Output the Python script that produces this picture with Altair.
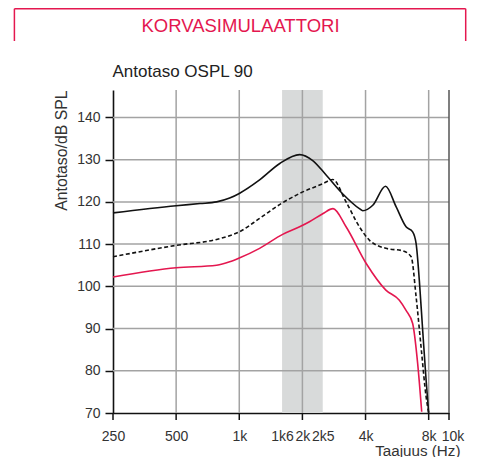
import altair as alt
import pandas as pd

# ---- data ----
black_f = [250, 500, 650, 780, 900, 1000, 1250, 1560, 1940, 2240, 2600, 3100, 3740, 3880, 4330, 4980, 5600, 6240, 6710, 6970, 7220, 7490, 7780, 8000]
black_db = [117.4, 119.1, 119.6, 120.0, 120.9, 122.0, 125.2, 129.1, 131.2, 129.8, 126.3, 122.0, 118.4, 117.9, 119.2, 123.7, 118.8, 114.1, 112.9, 110.1, 101.4, 89.6, 77.7, 70.0]

dashed_f = [250, 500, 780, 900, 1000, 1250, 1610, 1940, 2500, 2790, 3230, 3740, 4180, 5000, 6020, 6600, 6970, 7360, 7780, 8000]
dashed_db = [107.0, 109.7, 111.1, 112.0, 112.9, 116.1, 119.8, 122.0, 124.3, 125.3, 120.0, 114.1, 110.9, 109.0, 108.4, 107.0, 97.5, 85.6, 73.8, 70.0]

red_f = [250, 500, 780, 900, 1000, 1250, 1610, 1940, 2160, 2500, 2800, 3230, 4030, 5000, 5800, 6240, 6710, 7090, 7410]
red_db = [102.2, 104.4, 105.0, 105.8, 106.7, 109.0, 112.3, 114.1, 115.3, 117.2, 118.4, 114.1, 105.4, 99.1, 96.7, 94.3, 91.2, 81.7, 70.3]

band_range = [1600, 2500]
x_tick_labels = [250, 500, 1000, 1600, 2000, 2500, 4000, 8000, 10000]
x_tick_marks = [250, 500, 1000, 2000, 4000, 8000, 10000]
x_grid = [500, 1000, 2000, 4000, 8000]
y_ticks = [70, 80, 90, 100, 110, 120, 130, 140]
y_grid = [80, 90, 100, 110, 120, 130, 140]

title_text = "KORVASIMULAATTORI"
subtitle_text = "Antotaso OSPL 90"
y_title = "Antotaso/dB SPL"
x_title = "Taajuus (Hz)"

W = 336
H = 323
PINK = "#e4174f"
GRID = "#a3a3a3"
SANS = "Liberation Sans"

xscale = alt.Scale(type="log", domain=[250, 10000], nice=False)
yscale = alt.Scale(domain=[70, 146.5], nice=False, zero=False)

label_expr = ("datum.value >= 1000 ? (datum.value % 1000 == 0 ? (datum.value / 1000) + 'k' : "
              "floor(datum.value / 1000) + 'k' + ((datum.value % 1000) / 100)) : datum.value")

x_axis = alt.Axis(values=x_tick_labels, labelExpr=label_expr, ticks=False, tickSize=0,
                  grid=False, domainColor="#111", domainWidth=1.6,
                  labelFont=SANS, labelFontSize=14, labelColor="#333", labelPadding=16,
                  labelOffset={"condition": {"test": "datum.value == 10000", "value": 3.5}, "value": 0},
                  labelOverlap=False, labelFlush=False, labelBound=False,
                  title=x_title, titleFont=SANS, titleFontSize=15.2, titleFontWeight="normal",
                  titleColor="#333", titleAlign="right", titleBaseline="alphabetic",
                  titleAnchor="end", titleX=W + 11, titleY=42)

y_axis = alt.Axis(values=y_ticks, grid=False, tickSize=8, tickColor="#111", tickWidth=1.5,
                  domainColor="#111", domainWidth=1.6,
                  labelFont=SANS, labelFontSize=14, labelColor="#333", labelPadding=5,
                  title=y_title, titleFont=SANS, titleFontSize=15.8, titleFontWeight="normal",
                  titleColor="#333", titleAngle=270, titleAlign="right", titleBaseline="middle",
                  titleX=-52, titleY=0)


def X(field):
    return alt.X(field, scale=xscale, axis=x_axis)


def Y(field):
    return alt.Y(field, scale=yscale, axis=y_axis)


band = alt.Chart(pd.DataFrame({"f1": [band_range[0]], "f2": [band_range[1]]})).mark_rect(
    color="#d8dada").encode(
    x=X("f1:Q"), x2="f2:Q", y=alt.value(0), y2=alt.value(H))

hgrid = alt.Chart(pd.DataFrame({"v": y_grid})).mark_rule(color=GRID, strokeWidth=1.5).encode(
    y=Y("v:Q"), x=alt.value(0), x2=alt.value(W))

vgrid = alt.Chart(pd.DataFrame({"f": x_grid})).mark_rule(color=GRID, strokeWidth=1.5).encode(
    x=X("f:Q"), y=alt.value(0), y2=alt.value(H))

redge = alt.Chart(pd.DataFrame({"f": [10000]})).mark_rule(color="#555", strokeWidth=1.5).encode(
    x=X("f:Q"), y=alt.value(0), y2=alt.value(H))

xticks = alt.Chart(pd.DataFrame({"f": x_tick_marks})).mark_rule(color="#111", strokeWidth=1.5).encode(
    x=X("f:Q"), y=alt.value(H), y2=alt.value(H + 7))


def curve(fs, ds, color, dash=None):
    kw = dict(color=color, strokeWidth=1.6, interpolate="monotone")
    if dash:
        kw["strokeDash"] = dash
    return alt.Chart(pd.DataFrame({"f": fs, "db": ds})).mark_line(**kw).encode(
        x=X("f:Q"), y=Y("db:Q"))


red_line = curve(red_f, red_db, PINK)
dash_line = curve(dashed_f, dashed_db, "#111", [4, 2.5])
black_line = curve(black_f, black_db, "#111")

title = alt.Chart(pd.DataFrame({"t": [title_text]})).mark_text(
    font=SANS, fontSize=18.5, color=PINK, align="center", baseline="alphabetic").encode(
    text="t:N", x=alt.value(127.5), y=alt.value(-58.5))

subtitle = alt.Chart(pd.DataFrame({"t": [subtitle_text]})).mark_text(
    font=SANS, fontSize=17, color="#222", align="left", baseline="alphabetic").encode(
    text="t:N", x=alt.value(-0.5), y=alt.value(-12.8))

box_l = alt.Chart(pd.DataFrame({"a": [0]})).mark_rule(color=PINK, strokeWidth=1.5).encode(
    x=alt.value(-98.6), y=alt.value(-81.3), y2=alt.value(-49))
box_r = alt.Chart(pd.DataFrame({"a": [0]})).mark_rule(color=PINK, strokeWidth=1.5).encode(
    x=alt.value(352.7), y=alt.value(-81.3), y2=alt.value(-49))
box_t = alt.Chart(pd.DataFrame({"a": [0]})).mark_rule(color=PINK, strokeWidth=1.5).encode(
    x=alt.value(-98.6), x2=alt.value(352.7), y=alt.value(-81.3))

chart = alt.layer(
    band, hgrid, vgrid, redge, xticks,
    red_line, dash_line, black_line,
    title, subtitle, box_l, box_r, box_t
).properties(
    width=W, height=H,
    autosize=alt.AutoSizeParams(type="none"),
    padding={"left": 105, "top": 82, "right": 22, "bottom": 44},
).configure_view(stroke=None)

chart.save("out.html", embed_options={"renderer": "svg", "actions": False})
